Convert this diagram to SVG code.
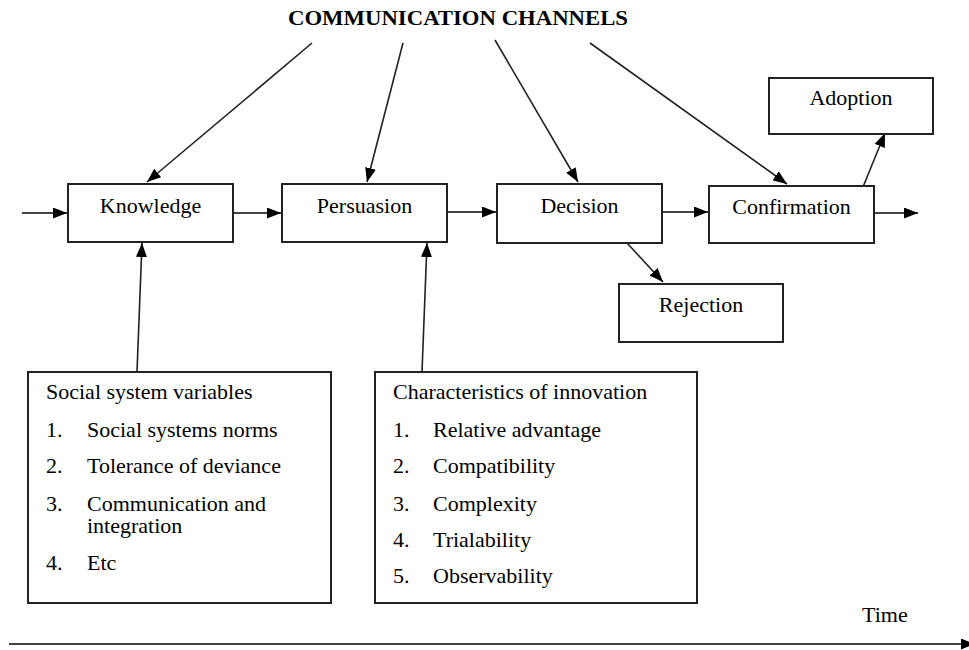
<svg xmlns="http://www.w3.org/2000/svg" width="969" height="650" viewBox="0 0 969 650">
<defs>
<marker id="ah" markerUnits="userSpaceOnUse" markerWidth="15" markerHeight="11" refX="14" refY="5.5" orient="auto">
<path d="M0,0 L14,5.5 L0,11 z" fill="#000"/>
</marker>
<style>
.box{fill:#fff;stroke:#222;stroke-width:2}
.t{font-family:"Liberation Serif","Times New Roman",serif;font-size:22px;fill:#000}
.c{text-anchor:middle}
.ln{stroke:#222;stroke-width:1.6;fill:none;marker-end:url(#ah)}
.hl{stroke:#444;stroke-width:2.2;fill:none;marker-end:url(#ah)}
</style>
</defs>
<rect width="969" height="650" fill="#fff"/>
<text class="t c" x="458" y="25" font-weight="bold" textLength="340" lengthAdjust="spacingAndGlyphs">COMMUNICATION CHANNELS</text>

<g id="connectors">
<line class="hl" x1="22" y1="213" x2="67" y2="213"/>
<line class="hl" x1="233" y1="213" x2="281" y2="213"/>
<line class="hl" x1="447" y1="212" x2="496" y2="212"/>
<line class="hl" x1="662" y1="212" x2="708" y2="212"/>
<line class="hl" x1="874" y1="213" x2="918" y2="213"/>
<line class="ln" x1="312" y1="43" x2="147" y2="182"/>
<line class="ln" x1="403" y1="43" x2="367" y2="182"/>
<line class="ln" x1="495" y1="40" x2="578" y2="182"/>
<line class="ln" x1="590" y1="43" x2="787" y2="184"/>
<line class="ln" x1="863" y1="187" x2="885" y2="133"/>
<line class="ln" x1="627" y1="243" x2="663" y2="282"/>
<line class="ln" x1="137" y1="372" x2="142" y2="243"/>
<line class="ln" x1="422" y1="372" x2="427" y2="243"/>
<line class="hl" x1="9" y1="644" x2="975" y2="644"/>
</g>

<g id="knowledge"><rect class="box" x="68" y="184" width="165" height="58"/><text class="t c" x="150.5" y="213">Knowledge</text></g>
<g id="persuasion"><rect class="box" x="282" y="184" width="165" height="58"/><text class="t c" x="364.5" y="213">Persuasion</text></g>
<g id="decision"><rect class="box" x="497" y="184" width="165" height="59"/><text class="t c" x="579.5" y="213">Decision</text></g>
<g id="confirmation"><rect class="box" x="709" y="186" width="165" height="57"/><text class="t c" x="791.5" y="214">Confirmation</text></g>
<g id="adoption"><rect class="box" x="769" y="78" width="164" height="56"/><text class="t c" x="851" y="105">Adoption</text></g>
<g id="rejection"><rect class="box" x="619" y="284" width="164" height="58"/><text class="t c" x="701" y="312">Rejection</text></g>

<g id="social">
<rect class="box" x="28" y="372" width="303" height="231"/>
<text class="t" x="46" y="399">Social system variables</text>
<text class="t" x="46" y="437">1.</text><text class="t" x="87" y="437">Social systems norms</text>
<text class="t" x="46" y="473">2.</text><text class="t" x="87" y="473">Tolerance of deviance</text>
<text class="t" x="46" y="511">3.</text><text class="t" x="87" y="511">Communication and</text>
<text class="t" x="87" y="533">integration</text>
<text class="t" x="46" y="570">4.</text><text class="t" x="87" y="570">Etc</text>
</g>

<g id="characteristics">
<rect class="box" x="375" y="372" width="322" height="231"/>
<text class="t" x="393" y="399">Characteristics of innovation</text>
<text class="t" x="393" y="437">1.</text><text class="t" x="433" y="437">Relative advantage</text>
<text class="t" x="393" y="473">2.</text><text class="t" x="433" y="473">Compatibility</text>
<text class="t" x="393" y="511">3.</text><text class="t" x="433" y="511">Complexity</text>
<text class="t" x="393" y="547">4.</text><text class="t" x="433" y="547">Trialability</text>
<text class="t" x="393" y="583">5.</text><text class="t" x="433" y="583">Observability</text>
</g>

<g id="time"><text class="t" x="862" y="622">Time</text></g>
</svg>
